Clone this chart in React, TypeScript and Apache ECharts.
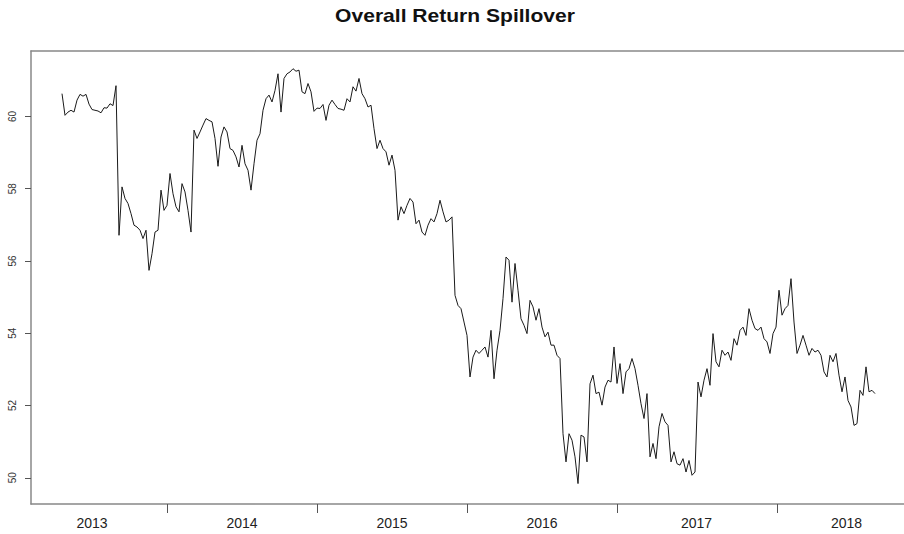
import React, { useEffect, useRef } from "react";
import * as echarts from "echarts";

// Year labels and their positions (observation index) on the x axis
const yearLabels = ["2013", "2014", "2015", "2016", "2017", "2018"];
const yearLabelIdx = [10, 60, 110, 160, 211.5, 261.5];
const yearTickIdx = [35, 85, 135, 185, 238.3];
const yTickValues = [50, 52, 54, 56, 58, 60];

// Overall return spillover index, by year segment
const vals2013 = [
  60.63, 60.03, 60.12, 60.17, 60.12, 60.45, 60.61, 60.56, 60.61, 60.34,
  60.19, 60.17, 60.15, 60.1, 60.24, 60.23, 60.35, 60.3, 60.85, 56.71,
  58.05, 57.73, 57.59, 57.31, 56.99, 56.94, 56.85, 56.62, 56.85, 55.74,
  56.2, 56.8, 56.85, 57.96, 57.4,
];
const vals2014 = [
  57.54, 58.42, 57.86, 57.5, 57.36, 58.14, 57.91, 57.4, 56.8, 59.62,
  59.39, 59.57, 59.76, 59.94, 59.89, 59.85, 59.39, 58.62, 59.43, 59.71,
  59.57, 59.11, 59.06, 58.88, 58.6, 59.2, 58.69, 58.51, 57.96, 58.69,
  59.34, 59.52, 60.17, 60.49, 60.59, 60.4, 60.72, 61.18, 60.12, 61.05,
  61.18, 61.23, 61.32, 61.25, 61.28, 60.68, 60.63, 60.91, 60.68, 60.14,
];
const vals2015 = [
  60.23, 60.22, 60.33, 59.89, 60.31, 60.45, 60.33, 60.22, 60.2, 60.17,
  60.49, 60.4, 60.82, 60.7, 61.05, 60.63, 60.49, 60.26, 60.31, 59.66,
  59.11, 59.34, 59.11, 59.02, 58.65, 58.93, 58.51, 57.13, 57.5, 57.31,
  57.54, 57.73, 57.63, 57.03, 57.13, 56.8, 56.71, 56.99, 57.17, 57.08,
  57.31, 57.68, 57.36, 57.08, 57.13, 57.22, 55.05, 54.77, 54.68, 54.31,
];
const vals2016 = [
  53.94, 52.79, 53.34, 53.53, 53.44, 53.53, 53.62, 53.34, 54.08, 52.74,
  53.53, 54.08, 54.96, 56.11, 56.02, 54.86, 55.93, 55.19, 54.4, 54.22,
  53.99, 54.91, 54.73, 54.36, 54.68, 54.17, 53.9, 54.03, 53.67, 53.67,
  53.39, 53.3, 51.22, 50.44, 51.22, 51.04, 50.58, 49.84, 51.18, 51.13,
  50.44, 52.6, 52.84, 52.33, 52.37, 52.01, 52.51, 52.7, 52.65, 53.62,
];
const vals2017 = [
  52.61, 53.16, 52.33, 52.93, 53.02, 53.3, 53.02, 52.56, 52.05, 51.64,
  52.33, 50.58, 50.95, 50.53, 51.41, 51.78, 51.55, 51.45, 50.44, 50.72,
  50.39, 50.35, 50.53, 50.16, 50.48, 50.07, 50.16, 52.65, 52.24, 52.7,
  53.02, 52.56, 53.99, 53.21, 53.07, 53.53, 53.39, 53.48, 53.25, 53.85,
  53.67, 54.08, 54.17, 53.94, 54.68, 54.36, 54.13, 54.08, 54.17, 53.85,
  53.76, 53.44, 53.99,
];
const vals2018 = [
  54.17, 55.19, 54.5, 54.68, 54.77, 55.51, 54.31, 53.44, 53.67, 53.94,
  53.67, 53.39, 53.58, 53.48, 53.53, 53.39, 52.93, 52.79, 53.39, 53.21,
  53.44, 52.84, 52.38, 52.79, 52.14, 51.96, 51.45, 51.5, 52.42, 52.28,
  53.07, 52.38, 52.42, 52.33,
];

const FONT = '"Liberation Sans", Arial, Helvetica, sans-serif';

export default function App() {
  const ref = useRef<HTMLDivElement>(null);

  useEffect(() => {
    if (!ref.current) return;
    const chart = echarts.init(ref.current, null, { renderer: "svg" });
    const all = [...vals2013, ...vals2014, ...vals2015, ...vals2016, ...vals2017, ...vals2018];
    const data = all.map((v, i) => [i, v]);
    const axisLineStyle = { color: "#888", width: 1.5 };

    chart.setOption({
      animation: false,
      backgroundColor: "#ffffff",
      textStyle: { fontFamily: FONT },
      graphic: [
        {
          type: "text",
          x: 455,
          y: 15.5,
          scaleX: 1.17,
          silent: true,
          style: {
            text: "Overall Return Spillover",
            font: `bold 18px ${FONT}`,
            fill: "#111",
            textAlign: "center",
            align: "center",
            textVerticalAlign: "middle",
            verticalAlign: "middle",
          },
        },
      ],
      grid: { left: 31, right: 0, top: 51, bottom: 30, containLabel: false, outerBoundsMode: "none" },
      xAxis: [
        {
          type: "value",
          position: "bottom",
          min: -31 / 3,
          max: 842 / 3,
          axisLine: { show: true, onZero: false, lineStyle: axisLineStyle },
          axisTick: { show: true, customValues: yearTickIdx, length: 9, lineStyle: { color: "#555", width: 1 } },
          axisLabel: {
            show: true,
            customValues: yearLabelIdx,
            formatter: (val: number) => {
              const k = yearLabelIdx.findIndex((p) => Math.abs(p - val) < 0.01);
              return k >= 0 ? yearLabels[k] : "";
            },
            fontSize: 14,
            color: "#222",
            margin: 12,
            fontFamily: FONT,
          },
          splitLine: { show: false },
        },
        {
          type: "value",
          position: "top",
          min: 0,
          max: 1,
          axisLine: { show: true, onZero: false, lineStyle: axisLineStyle },
          axisTick: { show: false },
          axisLabel: { show: false },
          splitLine: { show: false },
        },
      ],
      yAxis: {
        type: "value",
        min: 49.275,
        max: 61.81,
        axisLine: { show: true, onZero: false, lineStyle: axisLineStyle },
        axisTick: { show: true, customValues: yTickValues, length: 6, lineStyle: { color: "#555", width: 1 } },
        axisLabel: {
          show: true,
          customValues: yTickValues,
          rotate: 90,
          fontSize: 10,
          margin: 14,
          color: "#333",
          fontFamily: FONT,
        },
        splitLine: { show: false },
      },
      series: [
        {
          type: "line",
          xAxisIndex: 0,
          yAxisIndex: 0,
          data,
          symbol: "none",
          showSymbol: false,
          silent: true,
          lineStyle: { color: "#1a1a1a", width: 1 },
        },
      ],
    });

    return () => chart.dispose();
  }, []);

  return (
    <div
      ref={ref}
      style={{ position: "absolute", left: 0, top: 0, width: 904, height: 534, background: "#fff" }}
    />
  );
}
